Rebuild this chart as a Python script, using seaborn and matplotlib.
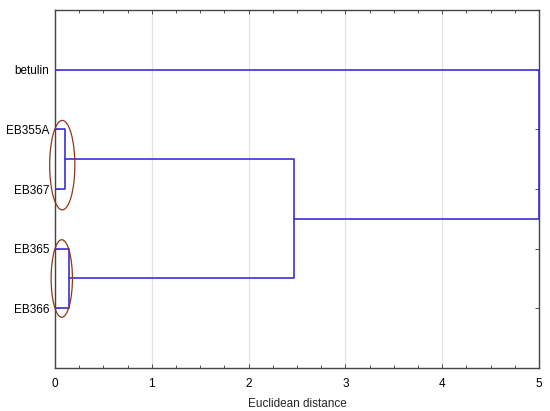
import matplotlib
matplotlib.use("Agg")
import matplotlib.pyplot as plt
import seaborn as sns
import pandas as pd
from matplotlib.patches import Ellipse
from matplotlib.ticker import MultipleLocator

# Data
leaves = ["betulin", "EB355A", "EB367", "EB365", "EB366"]
merge_a = 0.10   # EB355A + EB367
merge_b = 0.14   # EB365 + EB366
merge_ab = 2.47  # (EB355A,EB367) + (EB365,EB366)
merge_all = 5.0  # + betulin
x_ticks = [0, 1, 2, 3, 4, 5]

sns.set_style("white")
plt.rcParams['font.family'] = ['Liberation Sans', 'DejaVu Sans']

pos = {name: i + 1 for i, name in enumerate(leaves)}
ya = (pos["EB355A"] + pos["EB367"]) / 2
yb = (pos["EB365"] + pos["EB366"]) / 2
yab = (ya + yb) / 2

segs = [
    # cluster a
    [(0, pos["EB355A"]), (merge_a, pos["EB355A"]), (merge_a, pos["EB367"]), (0, pos["EB367"])],
    # cluster b
    [(0, pos["EB365"]), (merge_b, pos["EB365"]), (merge_b, pos["EB366"]), (0, pos["EB366"])],
    # a + b
    [(merge_a, ya), (merge_ab, ya), (merge_ab, yb), (merge_b, yb)],
    # all
    [(0, pos["betulin"]), (merge_all, pos["betulin"]), (merge_all, yab), (merge_ab, yab)],
]
rows = []
for k, s in enumerate(segs):
    for j, (x, y) in enumerate(s):
        rows.append({"seg": k, "order": j, "x": x, "y": y})
df = pd.DataFrame(rows)

fig = plt.figure(figsize=(5.5, 4.11), dpi=100)
ax = fig.add_axes([55/550, 1 - 368/411, (539-55)/550, (368-10)/411])

for x in x_ticks:
    ax.axvline(x, color="#e4e4e4", lw=0.9, zorder=0)

sns.lineplot(data=df, x="x", y="y", units="seg", estimator=None, sort=False,
             color="#3c2fd8", lw=1.2, ax=ax, legend=False, zorder=3)

ell_color = "#8b3a1a"
ax.add_patch(Ellipse((0.075, 2.6), 0.26, 1.5, fill=False, ec=ell_color, lw=0.9, zorder=4, clip_on=False))
ax.add_patch(Ellipse((0.07, 4.5), 0.22, 1.3, fill=False, ec=ell_color, lw=0.9, zorder=4, clip_on=False))

ax.set_xlim(0, 5)
ax.set_ylim(6, 0)
ax.set_xticks(x_ticks)
ax.xaxis.set_minor_locator(MultipleLocator(0.25))
ax.set_yticks([pos[n] for n in leaves])
ax.set_yticklabels(leaves)
ax.tick_params(axis="both", which="both", direction="in", top=True, right=True,
               bottom=True, left=True, labelsize=8.5, colors="#333333", labelcolor="black")
ax.tick_params(axis="x", which="major", length=3, width=0.6, pad=7)
ax.tick_params(axis="y", which="major", length=3, width=0.6, pad=4)
ax.tick_params(axis="x", which="minor", length=2, width=0.6)
ax.set_xlabel("Euclidean distance", fontsize=8.5, labelpad=6)
ax.set_ylabel("")
for s in ax.spines.values():
    s.set_color("#444444")
    s.set_linewidth(1.0)

fig.savefig("out.png", dpi=100)
